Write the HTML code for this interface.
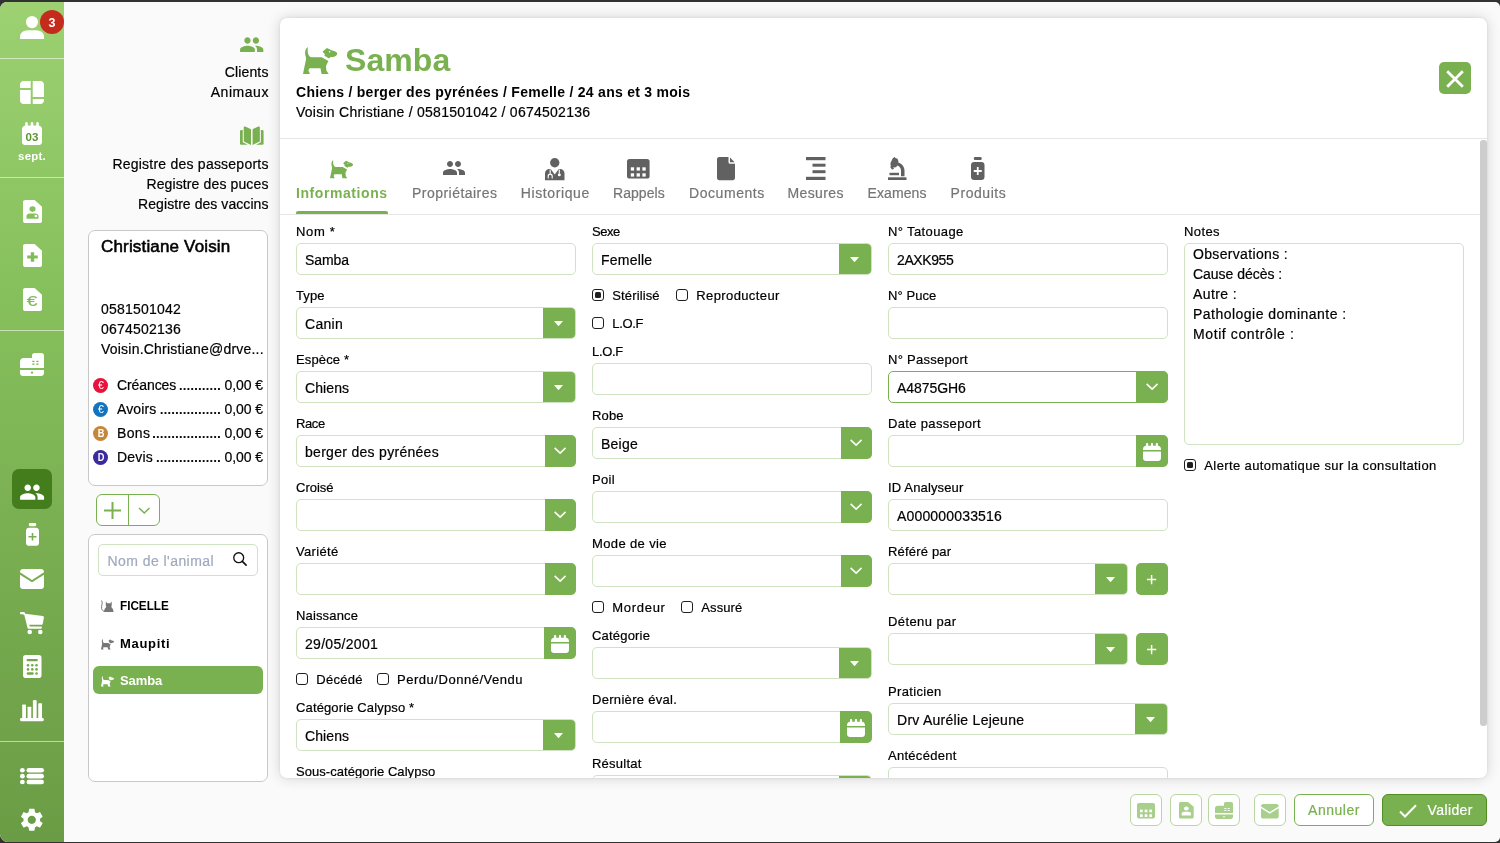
<!DOCTYPE html>
<html lang="fr"><head><meta charset="utf-8"><title>Samba</title>
<style>
*{box-sizing:border-box;margin:0;padding:0}
html,body{width:1500px;height:843px;overflow:hidden;background:#323232}
body{font-family:"Liberation Sans",sans-serif;font-size:14px;color:#000;position:relative}
#app{position:absolute;left:0;top:0;width:1500px;height:843px;background:#fafafa;clip-path:inset(2px 0 1px 0 round 7px 5px 5px 8px)}
#side{position:absolute;left:0;top:0;width:64px;height:843px;background:linear-gradient(180deg,#9dd172 0%,#86c05c 35%,#77ab4f 70%,#6a9c45 100%)}
.sep{position:absolute;left:0;width:64px;height:1px;background:rgba(255,255,255,.55)}
.t{position:absolute;white-space:nowrap}
.i{position:absolute;display:block;overflow:visible}
.card{position:absolute;background:#fff;border:1px solid #c9c9c9;border-radius:7px}
#main{position:absolute;left:280px;top:18px;width:1207px;height:760px;background:#fff;border-radius:7px;box-shadow:0 0 14px rgba(0,0,0,.16),0 0 3px rgba(0,0,0,.08);overflow:hidden}
.hl{position:absolute;left:0;width:1207px;height:1px;background:#e6e6e6}
.in{position:absolute;height:32px;background:#fff;border:1px solid #cfe2c1;border-radius:5px}
.in.foc{border-color:#7ab150}
.bt{position:absolute;background:#7ab150}
.cb{position:absolute;width:12px;height:12px;border:1.400px solid #1f1f1f;border-radius:3px;background:#fff}
.cb.on:after{content:"";position:absolute;left:1.600px;top:1.600px;width:6px;height:6px;background:#1f1f1f;border-radius:1.500px}
.tb{position:absolute;top:794px;height:32px;background:#fff;border:1px solid #b9d6a3;border-radius:6px}
</style></head><body>
<div id="app">

<div id="side">
<svg class="i" style="left:20px;top:16px" width="24" height="23" viewBox="0 0 24 23" preserveAspectRatio="none" fill="#fff" ><circle cx="12" cy="6.100" r="6.100"/><path d="M0 23v-2.500C0 17 3.500 14.200 8 14.200h8c4.500 0 8 2.800 8 6.300V23z"/></svg>
<div style="position:absolute;left:40px;top:10px;width:24px;height:24px;border-radius:50%;background:#c42b1c"></div>
<div class="t" style="left:-248px;width:600px;text-align:center;top:13.07px;font-size:12.5px;font-weight:700;color:#fff;letter-spacing:0px;line-height:20px;">3</div>
<div class="sep" style="top:58px"></div>
<svg class="i" style="left:20px;top:80px" width="24" height="24" viewBox="0 0 24 24" preserveAspectRatio="none" fill="#fff" ><path d="M3.500 1h7.200v7H0V4.500C0 2.600 1.600 1 3.500 1zM12.700 1h7.800C22.400 1 24 2.600 24 4.500V17H12.700zM0 10h10.700v14H3.500C1.600 24 0 22.400 0 20.500zM12.700 19H24v1.500c0 1.900-1.600 3.500-3.500 3.500h-7.800z"/></svg>
<svg class="i" style="left:22px;top:122px" width="20" height="23" viewBox="0 0 20 23" preserveAspectRatio="none" fill="#fff" ><path d="M3.200 3.500V1.300C3.200.600 3.800 0 4.500 0s1.300.600 1.300 1.300v2.200h2.900V1.300C8.700.600 9.300 0 10 0s1.300.600 1.300 1.300v2.200h2.900V1.300c0-.7.600-1.300 1.300-1.300s1.300.600 1.300 1.300v2.200C18.600 3.700 20 5.200 20 7v13c0 1.700-1.300 3-3 3H3c-1.700 0-3-1.300-3-3V7c0-1.800 1.400-3.300 3.200-3.500z"/></svg>
<div class="t" style="left:-268px;width:600px;text-align:center;top:127.32px;font-size:11.5px;font-weight:700;color:#5a9632;letter-spacing:0px;line-height:20px;">03</div>
<div class="t" style="left:-268px;width:600px;text-align:center;top:146.22px;font-size:11.5px;font-weight:700;color:#fff;letter-spacing:0.2px;line-height:20px;">sept.</div>
<div class="sep" style="top:177px"></div>
<svg class="i" style="left:22.600px;top:200px" width="19" height="23" viewBox="0 0 18 24" preserveAspectRatio="none"><path d="M2.200 0h8.800l7 7v14.800c0 1.200-1 2.200-2.200 2.200H2.200C1 24 0 23 0 21.800V2.200C0 1 1 0 2.200 0z" fill="#fff"/><circle cx="9" cy="9.500" r="2.900" fill="#86c05c"/><path d="M3.300 19.500v-2.800c0-1.700 1.400-2.700 3-2.700h5.400c1.600 0 3 1 3 2.700v2.800z" fill="#86c05c"/><circle cx="12.200" cy="16.800" r="1.300" fill="#fff"/></svg>
<svg class="i" style="left:22.600px;top:244px" width="19" height="23" viewBox="0 0 18 24" preserveAspectRatio="none"><path d="M2.200 0h8.800l7 7v14.800c0 1.200-1 2.200-2.200 2.200H2.200C1 24 0 23 0 21.800V2.200C0 1 1 0 2.200 0z" fill="#fff"/><path d="M7.400 8.500h3.200v3.400H14v3.200h-3.400v3.400H7.400v-3.400H4v-3.200h3.400z" fill="#82bc58"/></svg>
<svg class="i" style="left:22.600px;top:288px" width="19" height="23" viewBox="0 0 18 24" preserveAspectRatio="none"><path d="M2.200 0h8.800l7 7v14.800c0 1.200-1 2.200-2.200 2.200H2.200C1 24 0 23 0 21.800V2.200C0 1 1 0 2.200 0z" fill="#fff"/></svg>
<div class="t" style="left:-267.9px;width:600px;text-align:center;top:291.4px;font-size:15px;font-weight:400;color:#7fb955;letter-spacing:0px;line-height:20px;-webkit-text-stroke:.2px #7fb955;transform:scaleX(1.28)">€</div>
<div class="sep" style="top:330px"></div>
<svg class="i" style="left:20px;top:353px" width="24" height="23" viewBox="0 0 24 23" preserveAspectRatio="none" fill="#fff" ><path d="M12 2.500C12 1.100 13.100 0 14.500 0h7C22.900 0 24 1.100 24 2.500V15H0V8.500C0 6.600 1.600 5 3.500 5H12zM0 17h24v3c0 1.700-1.300 3-3 3H3c-1.700 0-3-1.300-3-3z"/><g fill="#7db653"><rect x="12.300" y="7.800" width="2.200" height="1.300"/><rect x="16.300" y="7.800" width="2.200" height="1.300"/><rect x="12.300" y="10.500" width="2.200" height="1.300"/><rect x="16.300" y="10.500" width="2.200" height="1.300"/><circle cx="12" cy="19.700" r="1.100"/></g></svg>
<div style="position:absolute;left:12px;top:469px;width:40px;height:40px;border-radius:7px;background:#447e1c"></div>
<svg class="i" style="left:19px;top:478.5px" width="26.2" height="26.2" viewBox="0 0 24 24" preserveAspectRatio="none" fill="#fff" ><path d="M16 11c1.66 0 2.99-1.34 2.99-3S17.66 5 16 5c-1.66 0-3 1.34-3 3s1.34 3 3 3zm-8 0c1.66 0 2.99-1.34 2.99-3S9.66 5 8 5C6.34 5 5 6.34 5 8s1.34 3 3 3zm0 2c-2.33 0-7 1.17-7 3.5V19h14v-2.5c0-2.33-4.67-3.5-7-3.5zm8 0c-.29 0-.62.02-.97.05 1.16.84 1.97 1.97 1.97 3.45V19h6v-2.5c0-2.33-4.67-3.5-7-3.5z"/></svg>
<svg class="i" style="left:26px;top:523px" width="13" height="22.8" viewBox="0 0 13 24" preserveAspectRatio="none" fill="#fff" ><rect x="2.800" y="0" width="7.400" height="3.400" rx="1.200"/><path d="M3 5h7c1.700 0 3 1.300 3 3v13c0 1.700-1.300 3-3 3H3c-1.700 0-3-1.300-3-3V8c0-1.700 1.300-3 3-3z"/><path d="M5.700 10.500h1.600v3.200h3.200v1.600H7.300v3.200H5.700v-3.200H2.500v-1.600h3.200z" fill="#78ae50"/></svg>
<svg class="i" style="left:20px;top:569px" width="24" height="20" viewBox="0 0 24 20" preserveAspectRatio="none" fill="#fff" ><path d="M3 0h18c1.700 0 3 1.300 3 3v.3l-12 7.600L0 3.300V3c0-1.700 1.300-3 3-3zM0 5.700l12 7.600 12-7.600V17c0 1.700-1.300 3-3 3H3c-1.700 0-3-1.300-3-3z"/></svg>
<svg class="i" style="left:20px;top:611.6px" width="24" height="22.3" viewBox="0 0 24 23" preserveAspectRatio="none" fill="#fff" fill-rule="evenodd"><path d="M1.200 0h2.600c.6 0 1.100.4 1.200 1l.2.800 17.600 2.400c.7.100 1.200.7 1.100 1.400l-1.100 6.500c-.1.600-.6 1-1.200 1H9.300l.4 1.800h11.100c.7 0 1.200.5 1.200 1.200s-.5 1.200-1.200 1.200H8.700c-.6 0-1.100-.4-1.200-1L4.300 3.200 2.800 2.400H1.200C.5 2.400 0 1.900 0 1.200S.5 0 1.200 0z"/><circle cx="9.700" cy="20.700" r="2.300"/><circle cx="20.300" cy="20.700" r="2.300"/></svg>
<svg class="i" style="left:23px;top:655px" width="18.500" height="23" viewBox="0 0 18.500 23"><rect x="0" y="0" width="18.500" height="23" rx="2.800" fill="#fff"/><g fill="#74a84c"><rect x="3.700" y="4" width="11" height="2.200" rx=".6"/><circle cx="5" cy="10.300" r="1.300"/><circle cx="9.300" cy="10.300" r="1.300"/><circle cx="13.500" cy="10.300" r="1.300"/><circle cx="5" cy="14.400" r="1.300"/><circle cx="9.300" cy="14.400" r="1.300"/><circle cx="13.500" cy="14.400" r="1.300"/><rect x="3.700" y="17.200" width="7" height="2.600" rx="1.200"/><circle cx="13.500" cy="18.500" r="1.300"/></g></svg>
<svg class="i" style="left:20px;top:700px" width="23.8" height="21.2" viewBox="0 0 24 22" preserveAspectRatio="none" fill="#fff" ><rect x="2.200" y="4.800" width="3.800" height="14" rx=".6"/><rect x="7.600" y="7" width="3.800" height="12" rx=".6"/><rect x="13" y="0" width="3.800" height="19" rx="1.200"/><rect x="18.400" y="3.500" width="3.800" height="15.500" rx=".6"/><rect x="0" y="18.800" width="24" height="3.200" rx="1.200"/></svg>
<div class="sep" style="top:741px"></div>
<svg class="i" style="left:20px;top:767.5px" width="24" height="16.3" viewBox="0 0 24 17" preserveAspectRatio="none" fill="#fff" ><circle cx="2.400" cy="2.400" r="2.400"/><rect x="6.500" y="0" width="17.500" height="4.800" rx="2.400"/><circle cx="2.400" cy="8.500" r="2.400"/><rect x="6.500" y="6.100" width="17.500" height="4.800" rx="2.400"/><circle cx="2.400" cy="14.600" r="2.400"/><rect x="6.500" y="12.200" width="17.500" height="4.800" rx="2.400"/></svg>
<svg class="i" style="left:18.2px;top:806px" width="27.6" height="27.6" viewBox="0 0 24 24" preserveAspectRatio="none" fill="#fff" ><path d="M19.14 12.94c.04-.3.06-.61.06-.94 0-.32-.02-.64-.07-.94l2.03-1.58c.18-.14.23-.41.12-.61l-1.92-3.32c-.12-.22-.37-.29-.59-.22l-2.39.96c-.5-.38-1.03-.7-1.62-.94l-.36-2.54c-.04-.24-.24-.41-.48-.41h-3.84c-.24 0-.43.17-.47.41l-.36 2.54c-.59.24-1.13.57-1.62.94l-2.39-.96c-.22-.08-.47 0-.59.22L2.74 8.87c-.12.21-.08.47.12.61l2.03 1.58c-.05.3-.09.63-.09.94s.02.64.07.94l-2.03 1.58c-.18.14-.23.41-.12.61l1.92 3.32c.12.22.37.29.59.22l2.39-.96c.5.38 1.03.7 1.62.94l.36 2.54c.05.24.24.41.48.41h3.84c.24 0 .44-.17.47-.41l.36-2.54c.59-.24 1.13-.56 1.62-.94l2.39.96c.22.08.47 0 .59-.22l1.92-3.32c.12-.22.07-.47-.12-.61l-2.01-1.58zM12 15.6c-1.98 0-3.6-1.62-3.6-3.6s1.62-3.6 3.6-3.6 3.6 1.62 3.6 3.6-1.62 3.6-3.6 3.6z"/></svg>
</div>
<svg class="i" style="left:239.3px;top:31.8px" width="25.4" height="25.4" viewBox="0 0 24 24" preserveAspectRatio="none" fill="#7ab150" ><path d="M16 11c1.66 0 2.99-1.34 2.99-3S17.66 5 16 5c-1.66 0-3 1.34-3 3s1.34 3 3 3zm-8 0c1.66 0 2.99-1.34 2.99-3S9.66 5 8 5C6.34 5 5 6.34 5 8s1.34 3 3 3zm0 2c-2.33 0-7 1.17-7 3.5V19h14v-2.5c0-2.33-4.67-3.5-7-3.5zm8 0c-.29 0-.62.02-.97.05 1.16.84 1.97 1.97 1.97 3.45V19h6v-2.5c0-2.33-4.67-3.5-7-3.5z"/></svg>
<div class="t" style="right:1231.449px;top:62.15px;font-size:14px;font-weight:400;color:#000;letter-spacing:0.151px;line-height:20px;-webkit-text-stroke:.2px #000;">Clients</div>
<div class="t" style="right:1231.0610000000001px;top:82.15px;font-size:14px;font-weight:400;color:#000;letter-spacing:0.539px;line-height:20px;-webkit-text-stroke:.2px #000;">Animaux</div>
<svg class="i" style="left:240.3px;top:126px" width="23.6" height="19.2" viewBox="0 0 24 19.500" preserveAspectRatio="none" fill="#7ab150" ><path d="M1.300 4h1.500v12.500l5 2.500H1.300C.6 19 0 18.400 0 17.700V5.300C0 4.600.6 4 1.300 4z"/><path d="M3.800 1.500c0-.8.800-1.300 1.500-1l5.900 2.800v16L4.500 16c-.4-.2-.7-.6-.7-1.100z"/><path d="M20.200 1.500c0-.8-.8-1.300-1.500-1l-5.900 2.800v16l6.700-3.300c.4-.2.700-.6.700-1.100z"/><path d="M22.700 4h-1.500v12.500l-5 2.500h6.500c.7 0 1.300-.6 1.300-1.300V5.300c0-.7-.6-1.300-1.300-1.300z"/></svg>
<div class="t" style="right:1231.371px;top:154.15px;font-size:14px;font-weight:400;color:#000;letter-spacing:0.229px;line-height:20px;-webkit-text-stroke:.2px #000;">Registre des passeports</div>
<div class="t" style="right:1231.473px;top:174.15px;font-size:14px;font-weight:400;color:#000;letter-spacing:0.127px;line-height:20px;-webkit-text-stroke:.2px #000;">Registre des puces</div>
<div class="t" style="right:1231.54px;top:194.15px;font-size:14px;font-weight:400;color:#000;letter-spacing:0.06px;line-height:20px;-webkit-text-stroke:.2px #000;">Registre des vaccins</div>
<div class="card" style="left:88px;top:230px;width:180px;height:256px"></div>
<div class="t" style="left:101px;top:236.81px;font-size:17px;font-weight:400;color:#000;letter-spacing:0.165px;line-height:20px;-webkit-text-stroke:.55px #000">Christiane Voisin</div>
<div class="t" style="left:101px;top:299.15px;font-size:14px;font-weight:400;color:#000;letter-spacing:0.214px;line-height:20px;-webkit-text-stroke:.2px #000;">0581501042</div>
<div class="t" style="left:101px;top:319.15px;font-size:14px;font-weight:400;color:#000;letter-spacing:0.214px;line-height:20px;-webkit-text-stroke:.2px #000;">0674502136</div>
<div class="t" style="left:101px;top:339.15px;font-size:14px;font-weight:400;color:#000;letter-spacing:0.217px;line-height:20px;-webkit-text-stroke:.2px #000;">Voisin.Christiane@drve...</div>
<div style="position:absolute;left:93.300px;top:377.5px;width:15px;height:15px;border-radius:50%;background:#e8123c"></div>
<div class="t" style="left:-199.2px;width:600px;text-align:center;top:375.06px;font-size:10.5px;font-weight:400;color:#fff;letter-spacing:0px;line-height:20px;">€</div>
<div class="t" style="left:117px;top:375.15px;font-size:14px;font-weight:400;color:#000;letter-spacing:-0.088px;line-height:20px;-webkit-text-stroke:.2px #000;">Créances</div>
<svg class="i" style="left:0;top:387px" width="270" height="4" viewBox="0 0 270 4"><line x1="179.8" y1="2" x2="219.9" y2="2" stroke="#111" stroke-width="2.200" stroke-dasharray="1.9 1.92"/></svg>
<div class="t" style="right:1237.088px;top:375.15px;font-size:14px;font-weight:400;color:#000;letter-spacing:-0.088px;line-height:20px;-webkit-text-stroke:.2px #000;">0,00 €</div>
<div style="position:absolute;left:93.300px;top:401.5px;width:15px;height:15px;border-radius:50%;background:#1273c0"></div>
<div class="t" style="left:-199.2px;width:600px;text-align:center;top:399.06px;font-size:10.5px;font-weight:400;color:#fff;letter-spacing:0px;line-height:20px;">€</div>
<div class="t" style="left:117px;top:399.15px;font-size:14px;font-weight:400;color:#000;letter-spacing:0.131px;line-height:20px;-webkit-text-stroke:.2px #000;">Avoirs</div>
<svg class="i" style="left:0;top:411px" width="270" height="4" viewBox="0 0 270 4"><line x1="160.7" y1="2" x2="219.9" y2="2" stroke="#111" stroke-width="2.200" stroke-dasharray="1.9 1.92"/></svg>
<div class="t" style="right:1237.088px;top:399.15px;font-size:14px;font-weight:400;color:#000;letter-spacing:-0.088px;line-height:20px;-webkit-text-stroke:.2px #000;">0,00 €</div>
<div style="position:absolute;left:93.300px;top:425.5px;width:15px;height:15px;border-radius:50%;background:#c4873a"></div>
<div class="t" style="left:-199.2px;width:600px;text-align:center;top:423.36px;font-size:10.5px;font-weight:700;color:#fff;letter-spacing:0px;line-height:20px;transform:scaleX(.88)">B</div>
<div class="t" style="left:117px;top:423.15px;font-size:14px;font-weight:400;color:#000;letter-spacing:0.363px;line-height:20px;-webkit-text-stroke:.2px #000;">Bons</div>
<svg class="i" style="left:0;top:435px" width="270" height="4" viewBox="0 0 270 4"><line x1="153.06" y1="2" x2="219.9" y2="2" stroke="#111" stroke-width="2.200" stroke-dasharray="1.9 1.92"/></svg>
<div class="t" style="right:1237.088px;top:423.15px;font-size:14px;font-weight:400;color:#000;letter-spacing:-0.088px;line-height:20px;-webkit-text-stroke:.2px #000;">0,00 €</div>
<div style="position:absolute;left:93.300px;top:449.5px;width:15px;height:15px;border-radius:50%;background:#3a2a9c"></div>
<div class="t" style="left:-199.2px;width:600px;text-align:center;top:447.36px;font-size:10.5px;font-weight:700;color:#fff;letter-spacing:0px;line-height:20px;transform:scaleX(.88)">D</div>
<div class="t" style="left:117px;top:447.15px;font-size:14px;font-weight:400;color:#000;letter-spacing:0.173px;line-height:20px;-webkit-text-stroke:.2px #000;">Devis</div>
<svg class="i" style="left:0;top:459px" width="270" height="4" viewBox="0 0 270 4"><line x1="156.88" y1="2" x2="219.9" y2="2" stroke="#111" stroke-width="2.200" stroke-dasharray="1.9 1.92"/></svg>
<div class="t" style="right:1237.088px;top:447.15px;font-size:14px;font-weight:400;color:#000;letter-spacing:-0.088px;line-height:20px;-webkit-text-stroke:.2px #000;">0,00 €</div>
<div style="position:absolute;left:96px;top:494px;width:64px;height:32px;border:1px solid #7ab150;border-radius:6px;background:#fff"></div>
<div style="position:absolute;left:128px;top:494px;width:1px;height:32px;background:#7ab150"></div>
<svg class="i" style="left:104px;top:502px" width="17" height="17" viewBox="0 0 17 17" preserveAspectRatio="none" fill="#7ab150" ><path d="M7.500 0h2v7.500H17v2H9.500V17h-2V9.500H0v-2h7.500z"/></svg>
<svg class="i" style="left:138px;top:506.5px" width="12.5" height="7" viewBox="0 0 12.500 7" preserveAspectRatio="none" fill="none" ><path d="M1 1l5.250 5L11.500 1" fill="none" stroke="#7ab150" stroke-width="1.500"/></svg>
<div class="card" style="left:88px;top:534px;width:180px;height:248px"></div>
<div class="in" style="left:98px;top:544px;width:160px"></div>
<div class="t" style="left:107.5px;top:551.15px;font-size:14px;font-weight:400;color:#a0a9bd;letter-spacing:0.441px;line-height:20px;-webkit-text-stroke:.2px #a0a9bd;">Nom de l'animal</div>
<svg class="i" style="left:233px;top:552px" width="13.8" height="13.8" viewBox="0 0 14.500 14.500" preserveAspectRatio="none" fill="none" ><circle cx="6" cy="6" r="5.200" fill="none" stroke="#111" stroke-width="1.400"/><path d="M9.800 9.800l4 4" stroke="#111" stroke-width="1.700" stroke-linecap="round"/></svg>
<svg class="i" style="left:101px;top:600px" width="12.5" height="12" viewBox="0 0 12.500 12" preserveAspectRatio="none" fill="none" ><path d="M.6.500c1.600 2.300-.6 5.500 0 8 .3 1.500 1.300 2.500 2.600 2.900" fill="none" stroke="#777" stroke-width="1"/><path d="M4.800 1.500l1.500 1.700h2.900l1.500-1.700v4c0 .6-.2 1.100-.5 1.500 1.300 1 2.300 2.700 2.300 5H3c0-2.300 1-4 2.300-5-.3-.4-.5-.9-.5-1.500z" fill="#777"/></svg>
<div class="t" style="left:120px;top:595.5px;font-size:13px;font-weight:700;color:#000;letter-spacing:0px;line-height:20px;transform:scaleX(.9);transform-origin:0 50%">FICELLE</div>
<svg class="i" style="left:101px;top:638.5px" width="13" height="10.5" viewBox="0 0 34.2 27" preserveAspectRatio="none" fill="#777" ><path d="M4.8 0C2.6 1.8 1.4 5 2.4 8.4 2.9 10 3.3 11.2 3 12.6L1.4 20 0 27h7l-1.600-3.400 1.100-2.300h11l1 5.700h7.200l-2.300-3.400-.400-4.600 2.400-5-6.600-3.700H8.500C5.800 9.600 4.200 7 4.800 0z"/><path d="M19.500 4.800 23.900 1.100l5.300 2.500c2.800.4 5 1.800 5 3 0 1.900-1.600 3.300-4.200 3.300l-2.500.1-1.400 1.400-4.600-2.600.3-1.800z"/><circle cx="26.6" cy="4.800" r=".8" fill="#fff"/></svg>
<div class="t" style="left:120px;top:633.5px;font-size:13px;font-weight:700;color:#000;letter-spacing:0.7px;line-height:20px;">Maupiti</div>
<div style="position:absolute;left:93px;top:666px;width:170px;height:28px;border-radius:6px;background:#7ab150"></div>
<svg class="i" style="left:101px;top:675.5px" width="13" height="10.5" viewBox="0 0 34.2 27" preserveAspectRatio="none" fill="#fff" ><path d="M4.8 0C2.6 1.8 1.4 5 2.4 8.4 2.9 10 3.3 11.2 3 12.6L1.4 20 0 27h7l-1.600-3.400 1.100-2.300h11l1 5.700h7.200l-2.300-3.400-.400-4.600 2.400-5-6.600-3.700H8.500C5.800 9.600 4.200 7 4.800 0z"/><path d="M19.500 4.800 23.900 1.100l5.300 2.500c2.800.4 5 1.800 5 3 0 1.900-1.600 3.300-4.200 3.300l-2.500.1-1.400 1.400-4.600-2.600.3-1.800z"/><circle cx="26.6" cy="4.800" r=".8" fill="#7ab150"/></svg>
<div class="t" style="left:120px;top:670.5px;font-size:13px;font-weight:700;color:#fff;letter-spacing:-0.1px;line-height:20px;">Samba</div>
<div id="main">
<svg class="i" style="left:23px;top:29px" width="34.2" height="27" viewBox="0 0 34.2 27" preserveAspectRatio="none" fill="#7ab150" ><path d="M4.8 0C2.6 1.8 1.4 5 2.4 8.4 2.9 10 3.3 11.2 3 12.6L1.4 20 0 27h7l-1.600-3.400 1.100-2.300h11l1 5.700h7.200l-2.300-3.400-.400-4.600 2.400-5-6.600-3.700H8.500C5.800 9.600 4.200 7 4.800 0z"/><path d="M19.500 4.800 23.900 1.100l5.300 2.500c2.800.4 5 1.800 5 3 0 1.900-1.600 3.300-4.200 3.300l-2.500.1-1.400 1.400-4.600-2.600.3-1.800z"/><circle cx="26.6" cy="4.800" r=".8" fill="#fff"/></svg>
<div class="t" style="left:65px;top:21.91px;font-size:32px;font-weight:700;color:#7ab150;letter-spacing:0.09px;line-height:40px;">Samba</div>
<div class="t" style="left:16px;top:64.15px;font-size:14px;font-weight:700;color:#000;letter-spacing:0.269px;line-height:20px;">Chiens / berger des pyrénées / Femelle / 24 ans et 3 mois</div>
<div class="t" style="left:16px;top:84.15px;font-size:14px;font-weight:400;color:#000;letter-spacing:0.254px;line-height:20px;-webkit-text-stroke:.2px #000;">Voisin Christiane / 0581501042 / 0674502136</div>
<div class="bt" style="left:1159px;top:44px;width:32px;height:32px;border-radius:5px"></div>
<svg class="i" style="left:1166px;top:51.6px" width="18" height="18" viewBox="0 0 18 18" preserveAspectRatio="none" fill="none" ><path d="M1.200 1.200l15.600 15.600M16.800 1.200l-15.600 15.600" stroke="#fff" stroke-width="2.800"/></svg>
<div class="hl" style="top:120px"></div>
<svg class="i" style="left:50.3px;top:141.7px" width="23" height="18.2" viewBox="0 0 34.2 27" preserveAspectRatio="none" fill="#7ab150" ><path d="M4.8 0C2.6 1.8 1.4 5 2.4 8.4 2.9 10 3.3 11.2 3 12.6L1.4 20 0 27h7l-1.600-3.400 1.100-2.300h11l1 5.700h7.200l-2.300-3.400-.400-4.600 2.400-5-6.600-3.700H8.500C5.800 9.600 4.200 7 4.800 0z"/><path d="M19.500 4.800 23.900 1.100l5.300 2.500c2.800.4 5 1.800 5 3 0 1.900-1.600 3.300-4.200 3.300l-2.500.1-1.400 1.400-4.600-2.600.3-1.800z"/><circle cx="26.6" cy="4.800" r=".8" fill="#fff"/></svg>
<svg class="i" style="left:161.8px;top:138.3px" width="24" height="24" viewBox="0 0 24 24" preserveAspectRatio="none" fill="#616161" ><path d="M16 11c1.66 0 2.99-1.34 2.99-3S17.66 5 16 5c-1.66 0-3 1.34-3 3s1.34 3 3 3zm-8 0c1.66 0 2.99-1.34 2.99-3S9.66 5 8 5C6.34 5 5 6.34 5 8s1.34 3 3 3zm0 2c-2.33 0-7 1.17-7 3.5V19h14v-2.5c0-2.33-4.67-3.5-7-3.5zm8 0c-.29 0-.62.02-.97.05 1.16.84 1.97 1.97 1.97 3.45V19h6v-2.5c0-2.33-4.67-3.5-7-3.5z"/></svg>
<svg class="i" style="left:264.5px;top:139.5px" width="19.5" height="22.2" viewBox="0 0 19.500 22.200" preserveAspectRatio="none" fill="#616161" ><circle cx="9.750" cy="4.700" r="4.700"/><path d="M3.700 11l2 .1 4.050 5.300 4.050-5.300 2-.1c2.100.3 3.700 2.100 3.700 4.300v6.900H0v-6.900C0 13.100 1.600 11.300 3.700 11z"/><path d="M3.200 20.500v-2.300c0-1.200.9-2.100 2-2.100s2 .9 2 2.100v2.300M5.200 16v-4.500M14.300 11.500v4" fill="none" stroke="#fff" stroke-width="1.100"/><circle cx="14.300" cy="16.800" r="1.500" fill="#fff"/></svg>
<svg class="i" style="left:347px;top:141px" width="22.6" height="19.6" viewBox="0 0 22.600 19.600" preserveAspectRatio="none" fill="#616161" ><rect x="0" y="0" width="22.600" height="19.600" rx="2.600"/><rect x="3.8" y="8.3" width="3.300" height="3.300" fill="#fff"/><rect x="9.6" y="8.3" width="3.300" height="3.300" fill="#fff"/><rect x="15.4" y="8.3" width="3.300" height="3.300" fill="#fff"/><rect x="3.8" y="14.3" width="3.300" height="3.300" fill="#fff"/><rect x="9.6" y="14.3" width="3.300" height="3.300" fill="#fff"/><rect x="15.4" y="14.3" width="3.300" height="3.300" fill="#fff"/></svg>
<svg class="i" style="left:437px;top:139px" width="18" height="23.2" viewBox="0 0 18 23.200" preserveAspectRatio="none" fill="#616161" ><path d="M2.200 0h9.300v5.300c0 .8.600 1.400 1.400 1.400H18V21c0 1.200-1 2.200-2.200 2.200H2.200C1 23.200 0 22.200 0 21V2.200C0 1 1 0 2.200 0zM13 .4 17.600 5.200H13z"/></svg>
<svg class="i" style="left:525.5px;top:139px" width="19.5" height="23" viewBox="0 0 19.500 23" preserveAspectRatio="none" fill="#616161" ><rect x="0" y="0" width="19.500" height="3.200"/><rect x="6.500" y="6.700" width="13" height="3"/><rect x="6.500" y="13.200" width="13" height="3"/><rect x="0" y="19.800" width="19.500" height="3.200"/></svg>
<svg class="i" style="left:607.5px;top:139px" width="18.5" height="23" viewBox="0 0 18.500 23" preserveAspectRatio="none" fill="#616161" ><path d="M4.800 1.200 6.300 0l1.600 1.300 1 .1c.9.700 1.500 1.900 1.500 3.100l-.1.900c3.600 1 6.200 4.300 6.200 8.200v5.700H13v-5.700c0-2.300-1.500-4.300-3.600-5l-.9 1.200c-.9.900-2.300 1-3.300.3l.9 1.400-2 1.300-2-3 .9-.6C2.400 8 2.200 6.600 2.700 5.400z"/><rect x="0" y="20.300" width="18.500" height="2.700"/><rect x="1.500" y="15.800" width="9.500" height="2.400"/></svg>
<svg class="i" style="left:691px;top:139px" width="13.5" height="23" viewBox="0 0 13.500 23" preserveAspectRatio="none" fill="#616161" ><rect x="2.800" y="0" width="7.900" height="3" rx="1.200"/><path d="M3 5h7.500c1.700 0 3 1.300 3 3v12c0 1.700-1.300 3-3 3H3c-1.700 0-3-1.300-3-3V8c0-1.700 1.300-3 3-3z"/><path d="M5.850 10h1.800v3.100h3.100v1.800h-3.100V18h-1.800v-3.100h-3.100v-1.800h3.100z" fill="#fff"/></svg>
<div class="t" style="left:16px;top:164.65px;font-size:14px;font-weight:700;color:#7ab150;letter-spacing:0.573px;line-height:20px;">Informations</div>
<div class="t" style="left:132px;top:164.65px;font-size:14px;font-weight:400;color:#757575;letter-spacing:0.47px;line-height:20px;-webkit-text-stroke:.2px #757575;">Propriétaires</div>
<div class="t" style="left:240.79999999999995px;top:164.65px;font-size:14px;font-weight:400;color:#757575;letter-spacing:0.607px;line-height:20px;-webkit-text-stroke:.2px #757575;">Historique</div>
<div class="t" style="left:333px;top:164.65px;font-size:14px;font-weight:400;color:#757575;letter-spacing:0.056px;line-height:20px;-webkit-text-stroke:.2px #757575;">Rappels</div>
<div class="t" style="left:409px;top:164.65px;font-size:14px;font-weight:400;color:#757575;letter-spacing:0.562px;line-height:20px;-webkit-text-stroke:.2px #757575;">Documents</div>
<div class="t" style="left:507.5px;top:164.65px;font-size:14px;font-weight:400;color:#757575;letter-spacing:0.386px;line-height:20px;-webkit-text-stroke:.2px #757575;">Mesures</div>
<div class="t" style="left:587.5px;top:164.65px;font-size:14px;font-weight:400;color:#757575;letter-spacing:0.107px;line-height:20px;-webkit-text-stroke:.2px #757575;">Examens</div>
<div class="t" style="left:670.5px;top:164.65px;font-size:14px;font-weight:400;color:#757575;letter-spacing:0.563px;line-height:20px;-webkit-text-stroke:.2px #757575;">Produits</div>
<div style="position:absolute;left:16px;top:193px;width:92px;height:3px;background:#7ab150;border-radius:2px 2px 0 0"></div>
<div class="hl" style="top:196px"></div>
<div class="t" style="left:16px;top:204.0px;font-size:13px;font-weight:400;color:#000;letter-spacing:0.7px;line-height:20px;-webkit-text-stroke:.2px #000;">Nom *</div>
<div class="in" style="left:16px;top:225px;width:280px"></div>
<div class="t" style="left:25px;top:231.65px;font-size:14px;font-weight:400;color:#000;letter-spacing:-0.068px;line-height:20px;-webkit-text-stroke:.2px #000;">Samba</div>
<div class="t" style="left:16px;top:268.0px;font-size:13px;font-weight:400;color:#000;letter-spacing:0.115px;line-height:20px;-webkit-text-stroke:.2px #000;">Type</div>
<div class="in" style="left:16px;top:289px;width:280px"></div>
<div class="t" style="left:25px;top:295.65px;font-size:14px;font-weight:400;color:#000;letter-spacing:0.302px;line-height:20px;-webkit-text-stroke:.2px #000;">Canin</div>
<div class="bt" style="left:263px;top:289.7px;width:32px;height:30.600px;border-radius:0 4px 4px 0"></div>
<svg class="i" style="left:274.3px;top:302.5px" width="9" height="5.2" viewBox="0 0 8.400 4.700" preserveAspectRatio="none" fill="#fff" ><path d="M0 0h8.400L4.200 4.700z" fill="#fff"/></svg>
<div class="t" style="left:16px;top:332.0px;font-size:13px;font-weight:400;color:#000;letter-spacing:0.147px;line-height:20px;-webkit-text-stroke:.2px #000;">Espèce *</div>
<div class="in" style="left:16px;top:353px;width:280px"></div>
<div class="t" style="left:25px;top:359.65px;font-size:14px;font-weight:400;color:#000;letter-spacing:0.084px;line-height:20px;-webkit-text-stroke:.2px #000;">Chiens</div>
<div class="bt" style="left:263px;top:353.7px;width:32px;height:30.600px;border-radius:0 4px 4px 0"></div>
<svg class="i" style="left:274.3px;top:366.5px" width="9" height="5.2" viewBox="0 0 8.400 4.700" preserveAspectRatio="none" fill="#fff" ><path d="M0 0h8.400L4.200 4.700z" fill="#fff"/></svg>
<div class="t" style="left:16px;top:396.0px;font-size:13px;font-weight:400;color:#000;letter-spacing:-0.373px;line-height:20px;-webkit-text-stroke:.2px #000;">Race</div>
<div class="in" style="left:16px;top:417px;width:280px"></div>
<div class="t" style="left:25px;top:423.65px;font-size:14px;font-weight:400;color:#000;letter-spacing:0.294px;line-height:20px;-webkit-text-stroke:.2px #000;">berger des pyrénées</div>
<div class="bt" style="left:265px;top:417px;width:31px;height:32px;border-radius:0 5px 5px 0"></div>
<svg class="i" style="left:273.9px;top:429.1px" width="12.2" height="7" viewBox="0 0 11.400 6.500" preserveAspectRatio="none" fill="none" ><path d="M.6.800l5.100 4.900L10.800.8" fill="none" stroke="#fff" stroke-width="1.400"/></svg>
<div class="t" style="left:16px;top:460.0px;font-size:13px;font-weight:400;color:#000;letter-spacing:-0.007px;line-height:20px;-webkit-text-stroke:.2px #000;">Croisé</div>
<div class="in" style="left:16px;top:481px;width:280px"></div>
<div class="bt" style="left:265px;top:481px;width:31px;height:32px;border-radius:0 5px 5px 0"></div>
<svg class="i" style="left:273.9px;top:493.1px" width="12.2" height="7" viewBox="0 0 11.400 6.500" preserveAspectRatio="none" fill="none" ><path d="M.6.800l5.100 4.900L10.800.8" fill="none" stroke="#fff" stroke-width="1.400"/></svg>
<div class="t" style="left:16px;top:524.0px;font-size:13px;font-weight:400;color:#000;letter-spacing:0.334px;line-height:20px;-webkit-text-stroke:.2px #000;">Variété</div>
<div class="in" style="left:16px;top:545px;width:280px"></div>
<div class="bt" style="left:265px;top:545px;width:31px;height:32px;border-radius:0 5px 5px 0"></div>
<svg class="i" style="left:273.9px;top:557.1px" width="12.2" height="7" viewBox="0 0 11.400 6.500" preserveAspectRatio="none" fill="none" ><path d="M.6.800l5.100 4.900L10.800.8" fill="none" stroke="#fff" stroke-width="1.400"/></svg>
<div class="t" style="left:16px;top:588.0px;font-size:13px;font-weight:400;color:#000;letter-spacing:0.154px;line-height:20px;-webkit-text-stroke:.2px #000;">Naissance</div>
<div class="in" style="left:16px;top:609px;width:280px"></div>
<div class="t" style="left:25px;top:615.65px;font-size:14px;font-weight:400;color:#000;letter-spacing:0.302px;line-height:20px;-webkit-text-stroke:.2px #000;">29/05/2001</div>
<div class="bt" style="left:264px;top:609px;width:32px;height:32px;border-radius:0 5px 5px 0"></div>
<svg class="i" style="left:271px;top:616.5px" width="18" height="18" viewBox="0 0 18 18" preserveAspectRatio="none" fill="#fff" ><path d="M3 2.800V1.100C3 .5 3.500 0 4.100 0s1.100.5 1.100 1.100v1.700h2.700V1.100C7.900.5 8.400 0 9 0s1.100.5 1.100 1.100v1.700h2.700V1.100c0-.6.5-1.100 1.100-1.100S15 .5 15 1.100v1.700c1.700.1 3 1.500 3 3.200V7H0V6c0-1.700 1.300-3.100 3-3.200zM0 8.600h18V15c0 1.700-1.300 3-3 3H3c-1.700 0-3-1.300-3-3z" fill="#fff"/></svg>
<div class="cb" style="left:16px;top:655px"></div>
<div class="t" style="left:36.30000000000001px;top:651.5px;font-size:13px;font-weight:400;color:#000;letter-spacing:0.284px;line-height:20px;-webkit-text-stroke:.2px #000;">Décédé</div>
<div class="cb" style="left:96.69999999999999px;top:655px"></div>
<div class="t" style="left:117.0px;top:651.5px;font-size:13px;font-weight:400;color:#000;letter-spacing:0.527px;line-height:20px;-webkit-text-stroke:.2px #000;">Perdu/Donné/Vendu</div>
<div class="t" style="left:16px;top:680.0px;font-size:13px;font-weight:400;color:#000;letter-spacing:0.136px;line-height:20px;-webkit-text-stroke:.2px #000;">Catégorie Calypso *</div>
<div class="in" style="left:16px;top:701px;width:280px"></div>
<div class="t" style="left:25px;top:707.65px;font-size:14px;font-weight:400;color:#000;letter-spacing:0.084px;line-height:20px;-webkit-text-stroke:.2px #000;">Chiens</div>
<div class="bt" style="left:263px;top:701.7px;width:32px;height:30.600px;border-radius:0 4px 4px 0"></div>
<svg class="i" style="left:274.3px;top:714.5px" width="9" height="5.2" viewBox="0 0 8.400 4.700" preserveAspectRatio="none" fill="#fff" ><path d="M0 0h8.400L4.200 4.700z" fill="#fff"/></svg>
<div class="t" style="left:16px;top:744.3px;font-size:13px;font-weight:400;color:#000;letter-spacing:0.058px;line-height:20px;-webkit-text-stroke:.2px #000;">Sous-catégorie Calypso</div>
<div class="in" style="left:16px;top:765.3px;width:280px"></div>
<div class="bt" style="left:263px;top:766.0px;width:32px;height:30.600px;border-radius:0 4px 4px 0"></div>
<svg class="i" style="left:274.3px;top:778.8px" width="9" height="5.2" viewBox="0 0 8.400 4.700" preserveAspectRatio="none" fill="#fff" ><path d="M0 0h8.400L4.200 4.700z" fill="#fff"/></svg>
<div class="t" style="left:312px;top:204.0px;font-size:13px;font-weight:400;color:#000;letter-spacing:-0.467px;line-height:20px;-webkit-text-stroke:.2px #000;">Sexe</div>
<div class="in" style="left:312px;top:225px;width:280px"></div>
<div class="t" style="left:321px;top:231.65px;font-size:14px;font-weight:400;color:#000;letter-spacing:0.216px;line-height:20px;-webkit-text-stroke:.2px #000;">Femelle</div>
<div class="bt" style="left:559px;top:225.7px;width:32px;height:30.600px;border-radius:0 4px 4px 0"></div>
<svg class="i" style="left:570.3px;top:238.5px" width="9" height="5.2" viewBox="0 0 8.400 4.700" preserveAspectRatio="none" fill="#fff" ><path d="M0 0h8.400L4.200 4.700z" fill="#fff"/></svg>
<div class="cb on" style="left:312px;top:271px"></div>
<div class="t" style="left:332.29999999999995px;top:267.8px;font-size:13px;font-weight:400;color:#000;letter-spacing:0.124px;line-height:20px;-webkit-text-stroke:.2px #000;">Stérilisé</div>
<div class="cb" style="left:396px;top:271px"></div>
<div class="t" style="left:416.29999999999995px;top:267.8px;font-size:13px;font-weight:400;color:#000;letter-spacing:0.387px;line-height:20px;-webkit-text-stroke:.2px #000;">Reproducteur</div>
<div class="cb" style="left:312px;top:299px"></div>
<div class="t" style="left:332.29999999999995px;top:295.8px;font-size:13px;font-weight:400;color:#000;letter-spacing:-0.316px;line-height:20px;-webkit-text-stroke:.2px #000;">L.O.F</div>
<div class="t" style="left:312px;top:324.0px;font-size:13px;font-weight:400;color:#000;letter-spacing:-0.316px;line-height:20px;-webkit-text-stroke:.2px #000;">L.O.F</div>
<div class="in" style="left:312px;top:345px;width:280px"></div>
<div class="t" style="left:312px;top:388.0px;font-size:13px;font-weight:400;color:#000;letter-spacing:0.151px;line-height:20px;-webkit-text-stroke:.2px #000;">Robe</div>
<div class="in" style="left:312px;top:409px;width:280px"></div>
<div class="t" style="left:321px;top:415.65px;font-size:14px;font-weight:400;color:#000;letter-spacing:0.245px;line-height:20px;-webkit-text-stroke:.2px #000;">Beige</div>
<div class="bt" style="left:561px;top:409px;width:31px;height:32px;border-radius:0 5px 5px 0"></div>
<svg class="i" style="left:569.9px;top:421.1px" width="12.2" height="7" viewBox="0 0 11.400 6.500" preserveAspectRatio="none" fill="none" ><path d="M.6.800l5.100 4.900L10.800.8" fill="none" stroke="#fff" stroke-width="1.400"/></svg>
<div class="t" style="left:312px;top:452.0px;font-size:13px;font-weight:400;color:#000;letter-spacing:0.304px;line-height:20px;-webkit-text-stroke:.2px #000;">Poil</div>
<div class="in" style="left:312px;top:473px;width:280px"></div>
<div class="bt" style="left:561px;top:473px;width:31px;height:32px;border-radius:0 5px 5px 0"></div>
<svg class="i" style="left:569.9px;top:485.1px" width="12.2" height="7" viewBox="0 0 11.400 6.500" preserveAspectRatio="none" fill="none" ><path d="M.6.800l5.100 4.900L10.800.8" fill="none" stroke="#fff" stroke-width="1.400"/></svg>
<div class="t" style="left:312px;top:516.0px;font-size:13px;font-weight:400;color:#000;letter-spacing:0.371px;line-height:20px;-webkit-text-stroke:.2px #000;">Mode de vie</div>
<div class="in" style="left:312px;top:537px;width:280px"></div>
<div class="bt" style="left:561px;top:537px;width:31px;height:32px;border-radius:0 5px 5px 0"></div>
<svg class="i" style="left:569.9px;top:549.1px" width="12.2" height="7" viewBox="0 0 11.400 6.500" preserveAspectRatio="none" fill="none" ><path d="M.6.800l5.100 4.900L10.800.8" fill="none" stroke="#fff" stroke-width="1.400"/></svg>
<div class="cb" style="left:312px;top:583px"></div>
<div class="t" style="left:332.29999999999995px;top:579.8px;font-size:13px;font-weight:400;color:#000;letter-spacing:0.7px;line-height:20px;-webkit-text-stroke:.2px #000;">Mordeur</div>
<div class="cb" style="left:401px;top:583px"></div>
<div class="t" style="left:421.29999999999995px;top:579.8px;font-size:13px;font-weight:400;color:#000;letter-spacing:0.094px;line-height:20px;-webkit-text-stroke:.2px #000;">Assuré</div>
<div class="t" style="left:312px;top:608.0px;font-size:13px;font-weight:400;color:#000;letter-spacing:0.195px;line-height:20px;-webkit-text-stroke:.2px #000;">Catégorie</div>
<div class="in" style="left:312px;top:629px;width:280px"></div>
<div class="bt" style="left:559px;top:629.7px;width:32px;height:30.600px;border-radius:0 4px 4px 0"></div>
<svg class="i" style="left:570.3px;top:642.5px" width="9" height="5.2" viewBox="0 0 8.400 4.700" preserveAspectRatio="none" fill="#fff" ><path d="M0 0h8.400L4.200 4.700z" fill="#fff"/></svg>
<div class="t" style="left:312px;top:672.0px;font-size:13px;font-weight:400;color:#000;letter-spacing:0.307px;line-height:20px;-webkit-text-stroke:.2px #000;">Dernière éval.</div>
<div class="in" style="left:312px;top:693px;width:280px"></div>
<div class="bt" style="left:560px;top:693px;width:32px;height:32px;border-radius:0 5px 5px 0"></div>
<svg class="i" style="left:567px;top:700.5px" width="18" height="18" viewBox="0 0 18 18" preserveAspectRatio="none" fill="#fff" ><path d="M3 2.800V1.100C3 .5 3.500 0 4.100 0s1.100.5 1.100 1.100v1.700h2.700V1.100C7.900.5 8.400 0 9 0s1.100.5 1.100 1.100v1.700h2.700V1.100c0-.6.5-1.100 1.100-1.100S15 .5 15 1.100v1.700c1.700.1 3 1.500 3 3.200V7H0V6c0-1.700 1.300-3.100 3-3.200zM0 8.600h18V15c0 1.700-1.300 3-3 3H3c-1.700 0-3-1.300-3-3z" fill="#fff"/></svg>
<div class="t" style="left:312px;top:736.0px;font-size:13px;font-weight:400;color:#000;letter-spacing:0.232px;line-height:20px;-webkit-text-stroke:.2px #000;">Résultat</div>
<div class="in" style="left:312px;top:757px;width:280px"></div>
<div class="bt" style="left:559px;top:757.7px;width:32px;height:30.600px;border-radius:0 4px 4px 0"></div>
<svg class="i" style="left:570.3px;top:770.5px" width="9" height="5.2" viewBox="0 0 8.400 4.700" preserveAspectRatio="none" fill="#fff" ><path d="M0 0h8.400L4.200 4.700z" fill="#fff"/></svg>
<div class="t" style="left:608px;top:204.0px;font-size:13px;font-weight:400;color:#000;letter-spacing:0.384px;line-height:20px;-webkit-text-stroke:.2px #000;">N° Tatouage</div>
<div class="in" style="left:608px;top:225px;width:280px"></div>
<div class="t" style="left:617px;top:231.65px;font-size:14px;font-weight:400;color:#000;letter-spacing:-0.395px;line-height:20px;-webkit-text-stroke:.2px #000;">2AXK955</div>
<div class="t" style="left:608px;top:268.0px;font-size:13px;font-weight:400;color:#000;letter-spacing:0.067px;line-height:20px;-webkit-text-stroke:.2px #000;">N° Puce</div>
<div class="in" style="left:608px;top:289px;width:280px"></div>
<div class="t" style="left:608px;top:332.0px;font-size:13px;font-weight:400;color:#000;letter-spacing:0.262px;line-height:20px;-webkit-text-stroke:.2px #000;">N° Passeport</div>
<div class="in foc" style="left:608px;top:353px;width:280px"></div>
<div class="t" style="left:617px;top:359.65px;font-size:14px;font-weight:400;color:#000;letter-spacing:-0.069px;line-height:20px;-webkit-text-stroke:.2px #000;">A4875GH6</div>
<div class="bt" style="left:856px;top:353px;width:32px;height:32px;border-radius:0 5px 5px 0"></div>
<svg class="i" style="left:865.9px;top:365.1px" width="12.2" height="7" viewBox="0 0 11.400 6.500" preserveAspectRatio="none" fill="none" ><path d="M.6.800l5.100 4.900L10.800.8" fill="none" stroke="#fff" stroke-width="1.400"/></svg>
<div class="t" style="left:608px;top:396.0px;font-size:13px;font-weight:400;color:#000;letter-spacing:0.342px;line-height:20px;-webkit-text-stroke:.2px #000;">Date passeport</div>
<div class="in" style="left:608px;top:417px;width:280px"></div>
<div class="bt" style="left:856px;top:417px;width:32px;height:32px;border-radius:0 5px 5px 0"></div>
<svg class="i" style="left:863px;top:424.5px" width="18" height="18" viewBox="0 0 18 18" preserveAspectRatio="none" fill="#fff" ><path d="M3 2.800V1.100C3 .5 3.500 0 4.100 0s1.100.5 1.100 1.100v1.700h2.700V1.100C7.900.5 8.400 0 9 0s1.100.5 1.100 1.100v1.700h2.700V1.100c0-.6.5-1.100 1.100-1.100S15 .5 15 1.100v1.700c1.700.1 3 1.500 3 3.200V7H0V6c0-1.700 1.300-3.100 3-3.200zM0 8.600h18V15c0 1.700-1.300 3-3 3H3c-1.700 0-3-1.300-3-3z" fill="#fff"/></svg>
<div class="t" style="left:608px;top:460.0px;font-size:13px;font-weight:400;color:#000;letter-spacing:0.146px;line-height:20px;-webkit-text-stroke:.2px #000;">ID Analyseur</div>
<div class="in" style="left:608px;top:481px;width:280px"></div>
<div class="t" style="left:617px;top:487.65px;font-size:14px;font-weight:400;color:#000;letter-spacing:0.168px;line-height:20px;-webkit-text-stroke:.2px #000;">A000000033516</div>
<div class="t" style="left:608px;top:524.0px;font-size:13px;font-weight:400;color:#000;letter-spacing:0.179px;line-height:20px;-webkit-text-stroke:.2px #000;">Référé par</div>
<div class="in" style="left:608px;top:545px;width:240px"></div>
<div class="bt" style="left:815px;top:545.7px;width:32px;height:30.600px;border-radius:0 4px 4px 0"></div>
<svg class="i" style="left:826.3px;top:558.5px" width="9" height="5.2" viewBox="0 0 8.400 4.700" preserveAspectRatio="none" fill="#fff" ><path d="M0 0h8.400L4.200 4.700z" fill="#fff"/></svg>
<div class="bt" style="left:856px;top:545px;width:32px;height:32px;border-radius:5px"></div>
<svg class="i" style="left:867.4px;top:556.8px" width="9.2" height="9.2" viewBox="0 0 10 10" preserveAspectRatio="none" fill="#fff" ><path d="M4.200 0h1.600v4.200H10v1.600H5.800V10H4.200V5.800H0V4.200h4.200z"/></svg>
<div class="t" style="left:608px;top:594.0px;font-size:13px;font-weight:400;color:#000;letter-spacing:0.412px;line-height:20px;-webkit-text-stroke:.2px #000;">Détenu par</div>
<div class="in" style="left:608px;top:615px;width:240px"></div>
<div class="bt" style="left:815px;top:615.7px;width:32px;height:30.600px;border-radius:0 4px 4px 0"></div>
<svg class="i" style="left:826.3px;top:628.5px" width="9" height="5.2" viewBox="0 0 8.400 4.700" preserveAspectRatio="none" fill="#fff" ><path d="M0 0h8.400L4.200 4.700z" fill="#fff"/></svg>
<div class="bt" style="left:856px;top:615px;width:32px;height:32px;border-radius:5px"></div>
<svg class="i" style="left:867.4px;top:626.8px" width="9.2" height="9.2" viewBox="0 0 10 10" preserveAspectRatio="none" fill="#fff" ><path d="M4.200 0h1.600v4.200H10v1.600H5.800V10H4.200V5.800H0V4.200h4.200z"/></svg>
<div class="t" style="left:608px;top:664.0px;font-size:13px;font-weight:400;color:#000;letter-spacing:0.331px;line-height:20px;-webkit-text-stroke:.2px #000;">Praticien</div>
<div class="in" style="left:608px;top:685px;width:280px"></div>
<div class="t" style="left:617px;top:691.65px;font-size:14px;font-weight:400;color:#000;letter-spacing:0.268px;line-height:20px;-webkit-text-stroke:.2px #000;">Drv Aurélie Lejeune</div>
<div class="bt" style="left:855px;top:685.7px;width:32px;height:30.600px;border-radius:0 4px 4px 0"></div>
<svg class="i" style="left:866.3px;top:698.5px" width="9" height="5.2" viewBox="0 0 8.400 4.700" preserveAspectRatio="none" fill="#fff" ><path d="M0 0h8.400L4.200 4.700z" fill="#fff"/></svg>
<div class="t" style="left:608px;top:728.0px;font-size:13px;font-weight:400;color:#000;letter-spacing:0.282px;line-height:20px;-webkit-text-stroke:.2px #000;">Antécédent</div>
<div class="in" style="left:608px;top:749px;width:280px"></div>
<div class="t" style="left:904px;top:204.0px;font-size:13px;font-weight:400;color:#000;letter-spacing:0.385px;line-height:20px;-webkit-text-stroke:.2px #000;">Notes</div>
<div class="in" style="left:904px;top:225px;width:280px;height:202px"></div>
<div class="t" style="left:913px;top:226.15px;font-size:14px;font-weight:400;color:#000;letter-spacing:0.333px;line-height:20px;-webkit-text-stroke:.2px #000;">Observations :</div>
<div class="t" style="left:913px;top:246.15px;font-size:14px;font-weight:400;color:#000;letter-spacing:-0.026px;line-height:20px;-webkit-text-stroke:.2px #000;">Cause décès :</div>
<div class="t" style="left:913px;top:266.15px;font-size:14px;font-weight:400;color:#000;letter-spacing:0.391px;line-height:20px;-webkit-text-stroke:.2px #000;">Autre :</div>
<div class="t" style="left:913px;top:286.15px;font-size:14px;font-weight:400;color:#000;letter-spacing:0.475px;line-height:20px;-webkit-text-stroke:.2px #000;">Pathologie dominante :</div>
<div class="t" style="left:913px;top:306.15px;font-size:14px;font-weight:400;color:#000;letter-spacing:0.605px;line-height:20px;-webkit-text-stroke:.2px #000;">Motif contrôle :</div>
<div class="cb on" style="left:904px;top:441px"></div>
<div class="t" style="left:924.3px;top:437.8px;font-size:13px;font-weight:400;color:#000;letter-spacing:0.39px;line-height:20px;-webkit-text-stroke:.2px #000;">Alerte automatique sur la consultation</div>
<div style="position:absolute;left:1200px;top:122px;width:7px;height:586px;background:#cdcdcd;border-radius:3px"></div>
</div>
<div class="tb" style="left:1130px;width:32px"></div>
<svg class="i" style="left:1137px;top:803px" width="18" height="15.5" viewBox="0 0 18 15.500" preserveAspectRatio="none" fill="#a8cf8c" ><rect width="18" height="15.500" rx="2"/><rect x="3" y="6.6" width="2.700" height="2.700" fill="#fff"/><rect x="7.65" y="6.6" width="2.700" height="2.700" fill="#fff"/><rect x="12.3" y="6.6" width="2.700" height="2.700" fill="#fff"/><rect x="3" y="11.3" width="2.700" height="2.700" fill="#fff"/><rect x="7.65" y="11.3" width="2.700" height="2.700" fill="#fff"/><rect x="12.3" y="11.3" width="2.700" height="2.700" fill="#fff"/></svg>
<div class="tb" style="left:1170px;width:32px"></div>
<svg class="i" style="left:1178.700px;top:802.300px" width="14.700" height="16.600" viewBox="0 0 18 24" preserveAspectRatio="none"><path d="M2.200 0h8.800l7 7v14.800c0 1.200-1 2.200-2.200 2.200H2.200C1 24 0 23 0 21.800V2.200C0 1 1 0 2.200 0z" fill="#a8cf8c"/><circle cx="9" cy="9.500" r="2.900" fill="#fff"/><path d="M3.300 19.500v-2.800c0-1.700 1.400-2.700 3-2.700h5.400c1.600 0 3 1 3 2.700v2.800z" fill="#fff"/></svg>
<div class="tb" style="left:1208px;width:32px"></div>
<svg class="i" style="left:1215px;top:802px" width="18" height="17" viewBox="0 0 24 23" preserveAspectRatio="none" fill="#a8cf8c" ><path d="M12 2.500C12 1.100 13.100 0 14.500 0h7C22.900 0 24 1.100 24 2.500V15H0V8.500C0 6.600 1.600 5 3.500 5H12zM0 17h24v3c0 1.700-1.300 3-3 3H3c-1.700 0-3-1.300-3-3z"/><g fill="#fff"><rect x="12.300" y="8.300" width="3" height="1.200"/><rect x="16.800" y="8.300" width="3" height="1.200"/><rect x="12.300" y="10.800" width="3" height="1.200"/><rect x="16.800" y="10.800" width="3" height="1.200"/><circle cx="12" cy="20" r="1.100"/></g></svg>
<div class="tb" style="left:1254px;width:32px"></div>
<svg class="i" style="left:1261.3px;top:803.6px" width="17.7" height="14.6" viewBox="0 0 24 20" preserveAspectRatio="none" fill="#a8cf8c" ><path d="M3 0h18c1.700 0 3 1.300 3 3v.3l-12 7.600L0 3.300V3c0-1.700 1.300-3 3-3zM0 5.700l12 7.600 12-7.600V17c0 1.700-1.300 3-3 3H3c-1.700 0-3-1.300-3-3z"/></svg>
<div class="tb" style="left:1294px;width:80px;border-color:#7ab150"></div>
<div class="t" style="left:1034px;width:600px;text-align:center;top:800.15px;font-size:14px;font-weight:400;color:#7ab150;letter-spacing:0.518px;line-height:20px;-webkit-text-stroke:.2px #7ab150;">Annuler</div>
<div class="tb" style="left:1382px;width:105px;background:#7ab150;border-color:#4f8f22"></div>
<svg class="i" style="left:1399px;top:804px" width="18" height="13.5" viewBox="0 0 18 13.500" preserveAspectRatio="none" fill="none" ><path d="M1 7.500l5 5L17 1.200" fill="none" stroke="#fff" stroke-width="2"/></svg>
<div class="t" style="left:1427.5px;top:800.15px;font-size:14px;font-weight:400;color:#fff;letter-spacing:0.404px;line-height:20px;-webkit-text-stroke:.2px #fff;">Valider</div>
</div>
</body></html>
